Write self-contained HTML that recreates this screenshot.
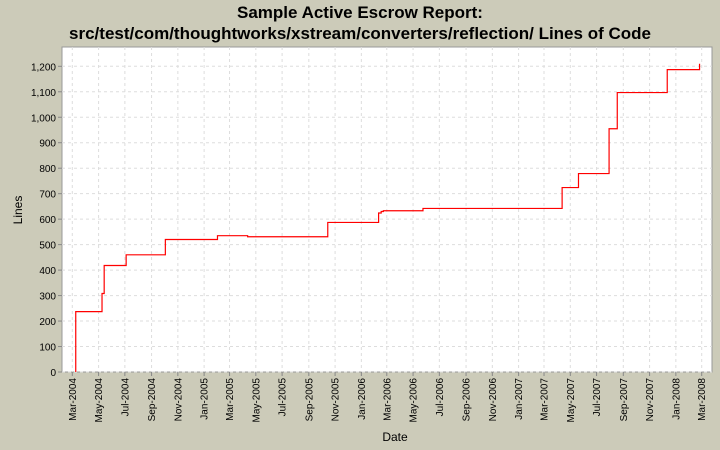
<!DOCTYPE html>
<html><head><meta charset="utf-8"><style>
body{margin:0;background:#cccbb9;}
svg{display:block;font-family:"Liberation Sans","DejaVu Sans",sans-serif;}
</style></head><body>
<svg id="c" width="720" height="450">
<rect width="720" height="450" fill="#cccbb9"/>
<text x="360" y="18" text-anchor="middle" font-size="17" font-weight="bold" fill="#000">Sample Active Escrow Report:</text>
<text x="360" y="39" text-anchor="middle" font-size="17" font-weight="bold" fill="#000">src/test/com/thoughtworks/xstream/converters/reflection/ Lines of Code</text>
<rect x="62" y="47" width="650" height="325" fill="#fff" stroke="#999"/>
<g id="grid"></g><g id="axes"></g><g id="series"></g>
<text x="395" y="441" text-anchor="middle" font-size="12">Date</text>
<text transform="translate(22,210) rotate(-90)" text-anchor="middle" font-size="12">Lines</text>
</svg>
<script>
const dates=["2004-03-09","2004-05-09","2004-05-14","2004-07-04","2004-10-03","2005-02-01","2005-04-12","2005-10-15","2006-02-10","2006-02-16","2006-02-21","2006-05-24","2007-04-12","2007-05-20","2007-07-30","2007-08-18","2007-12-12","2008-02-25"];
const lines=[237,308,418,460,520,535,531,587,624,630,633,642,724,779,955,1097,1187,1210];
const yTicks=[0,100,200,300,400,500,600,700,800,900,1000,1100,1200];
const xTickLabels=["Mar-2004","May-2004","Jul-2004","Sep-2004","Nov-2004","Jan-2005","Mar-2005","May-2005","Jul-2005","Sep-2005","Nov-2005","Jan-2006","Mar-2006","May-2006","Jul-2006","Sep-2006","Nov-2006","Jan-2007","Mar-2007","May-2007","Jul-2007","Sep-2007","Nov-2007","Jan-2008","Mar-2008"];
const NS="http://www.w3.org/2000/svg";
const t0=Date.UTC(2004,2,1),t1=Date.UTC(2008,2,1);
function xs(d){const t=(typeof d==="string")?Date.parse(d+"T00:00:00Z"):d;return 72.3+(t-t0)/(t1-t0)*629.4;}
function ys(v){return 372-v*(305.7/1200);}
const mon={Jan:0,Feb:1,Mar:2,Apr:3,May:4,Jun:5,Jul:6,Aug:7,Sep:8,Oct:9,Nov:10,Dec:11};
function mk(tag,attrs,parent){const e=document.createElementNS(NS,tag);for(const k in attrs)e.setAttribute(k,attrs[k]);parent.appendChild(e);return e;}
const grid=document.getElementById('grid'),axes=document.getElementById('axes'),ser=document.getElementById('series');
yTicks.forEach(v=>{const y=ys(v);
 const g=mk('line',{x1:62,x2:712,y1:y,y2:y,stroke:'#ddd','stroke-dasharray':'3,3'},grid);
 
 const tk=mk('line',{x1:58,x2:62,y1:y,y2:y,stroke:'#888'},axes);
 
 const t=mk('text',{x:56,y:y+4,'text-anchor':'end','font-size':10},axes);
 t.textContent=v.toLocaleString('en-US');
 
});
xTickLabels.forEach(l=>{const p=l.split('-');const x=xs(Date.UTC(+p[1],mon[p[0]],1));
 const g=mk('line',{x1:x,x2:x,y1:47,y2:372,stroke:'#ddd','stroke-dasharray':'3,3'},grid);
 
 const tk=mk('line',{x1:x,x2:x,y1:372,y2:376,stroke:'#888'},axes);
 
 const t=mk('text',{transform:`translate(${x+3.5},378) rotate(-90)`,'text-anchor':'end','font-size':10},axes);
 t.textContent=l;
 
});
let d=`M${xs(dates[0])},${ys(0)}`;
dates.forEach((dt,i)=>{const x=xs(dt);if(i>0)d+=` H${x}`;d+=` V${ys(lines[i])}`;});
const p=mk('path',{d:d,fill:'none',stroke:'#f00','stroke-width':1.2},ser);


</script>
</body></html>
